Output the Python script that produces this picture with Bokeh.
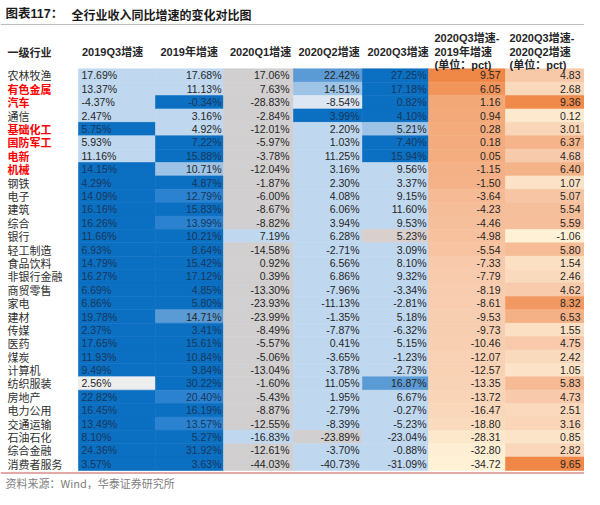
import numpy as np
from bokeh.plotting import figure
from bokeh.models import ColumnDataSource, LinearColorMapper, Range1d
from bokeh.transform import transform
from bokeh.core.properties import value
from bokeh.embed import file_html
from bokeh.resources import INLINE

# ---------------- data ----------------
industries = ["农林牧渔", "有色金属", "汽车", "通信", "基础化工", "国防军工", "电新", "机械",
              "钢铁", "电子", "建筑", "综合", "银行", "轻工制造", "食品饮料", "非银行金融",
              "商贸零售", "家电", "建材", "传媒", "医药", "煤炭", "计算机", "纺织服装",
              "房地产", "电力公用", "交通运输", "石油石化", "综合金融", "消费者服务"]
red_industries = ["有色金属", "汽车", "基础化工", "国防军工", "电新", "机械"]

g_2019q3 = [17.69, 13.37, -4.37, 2.47, 5.75, 5.93, 11.16, 14.15, 4.29, 14.09, 16.16, 16.26,
            11.66, 6.93, 14.79, 16.27, 6.69, 6.86, 19.78, 2.37, 17.65, 11.93, 9.49, 2.56,
            22.82, 16.45, 13.49, 8.10, 24.36, 3.57]
g_2019 = [17.68, 11.13, -0.34, 3.16, 4.92, 7.22, 15.88, 10.71, 4.87, 12.79, 15.83, 13.99,
          10.21, 8.64, 15.42, 17.12, 4.85, 5.80, 14.71, 3.41, 15.61, 10.84, 9.84, 30.22,
          20.40, 16.19, 13.57, 5.27, 31.92, 3.63]
g_2020q1 = [17.06, 7.63, -28.83, -2.84, -12.01, -5.97, -3.78, -12.04, -1.87, -6.00, -8.67, -8.82,
            7.19, -14.58, 0.92, 0.39, -13.30, -23.93, -23.99, -8.49, -5.57, -5.06, -13.04, -1.60,
            -5.43, -8.87, -12.55, -16.83, -12.61, -44.03]
g_2020q2 = [22.42, 14.51, -8.54, 3.99, 2.20, 1.03, 11.25, 3.16, 2.30, 4.08, 6.06, 3.94,
            6.28, -2.71, 6.56, 6.86, -7.96, -11.13, -1.35, -7.87, 0.41, -3.65, -3.78, 11.05,
            1.95, -2.79, -8.39, -23.89, -3.70, -40.73]
g_2020q3 = [27.25, 17.18, 0.82, 4.10, 5.21, 7.40, 15.94, 9.56, 3.37, 9.15, 11.60, 9.53,
            5.23, 3.09, 8.10, 9.32, -3.34, -2.81, 5.18, -6.32, 5.15, -1.23, -2.73, 16.87,
            6.67, -0.27, -5.23, -23.04, -0.88, -31.09]
d_vs_2019 = [9.57, 6.05, 1.16, 0.94, 0.28, 0.18, 0.05, -1.15, -1.50, -3.64, -4.23, -4.46,
             -4.98, -5.54, -7.33, -7.79, -8.19, -8.61, -9.53, -9.73, -10.46, -12.07, -12.57, -13.35,
             -13.72, -16.47, -18.80, -28.31, -32.80, -34.72]
d_vs_q2 = [4.83, 2.68, 9.36, 0.12, 3.01, 6.37, 4.68, 6.40, 1.07, 5.07, 5.54, 5.59,
           -1.06, 5.80, 1.54, 2.46, 4.62, 8.32, 6.53, 1.55, 4.75, 2.42, 1.05, 5.83,
           4.73, 2.51, 3.16, 0.85, 2.82, 9.65]

# cell highlight codes (one letter per row)
shade_2019q3 = "lllldll" + "dddddddddddddddd" + "w" + "dddddd"
shade_2019 = "lldlldd" + "p" + "dmdm" + "dddddd" + "b" + "ddddd" + "mdm" + "ddd"
shade_2020q1 = "gggggggggggg" + "l" + "gggggggggggggg" + "l" + "gg"
shade_2020q2 = "bpxd" + "lllllllllllllllllllllll" + "g" + "ll"
shade_2020q3 = "ddddpdd" + "lllll" + "r" + "llllllllll" + "b" + "llllll"

title_a = "图表117："
title_b = "全行业收入同比增速的变化对比图"
source_note = "资料来源：Wind，华泰证券研究所"
header_single = ["2019Q3增速", "2019年增速", "2020Q1增速", "2020Q2增速", "2020Q3增速"]
header_multi = [["2020Q3增速-", "2019年增速", "(单位：pct)"],
                ["2020Q3增速-", "2020Q2增速", "(单位：pct)"]]
first_header = "一级行业"

# ---------------- style ----------------
SHADE = {"d": "#0B6FC2", "m": "#2A82D0", "b": "#5B9BD5", "p": "#9DC3E6",
         "l": "#BFD8EF", "x": "#DCE7F3", "g": "#D1CFCF", "w": "#EEEEEE", "r": "#D9CFCC"}
DARK_TXT = "#17375C"
TXT = "#262626"
NUM_FONT = value("Liberation Sans, Noto Sans CJK SC")
CJK_FONT = value("Noto Sans CJK SC")

W, H = 584, 489
TOP = 68.3
RH = 13.39
EDGES = [78, 155, 223, 293, 362, 428, 505, 584]
TEXT_X = [81, 221, 289, 359, 426, 500, 580]
ALIGN = ["left", "right", "right", "right", "right", "right", "right"]
HEAD_X = [81.5, 160, 229.5, 298, 367, 434, 509]

n = len(industries)
rows_top = [TOP + i * RH for i in range(n)]
rows_bot = [TOP + (i + 1) * RH for i in range(n)]
rows_mid = [TOP + (i + 0.5) * RH for i in range(n)]

p = figure(width=W, height=H, x_range=Range1d(0, W), y_range=Range1d(H, 0),
           output_backend="svg", toolbar_location=None, x_axis_type=None, y_axis_type=None,
           min_border=0, outline_line_color=None, background_fill_color="white",
           border_fill_color="white")

# blue/gray columns
blue_cols = [(g_2019q3, shade_2019q3), (g_2019, shade_2019), (g_2020q1, shade_2020q1),
             (g_2020q2, shade_2020q2), (g_2020q3, shade_2020q3)]
for j, (vals, shades) in enumerate(blue_cols):
    src = ColumnDataSource(dict(
        left=[EDGES[j]] * n, right=[EDGES[j + 1]] * n, top=rows_top, bottom=rows_bot,
        color=[SHADE[s] for s in shades], y=rows_mid, x=[TEXT_X[j]] * n,
        label=["%.2f%%" % v for v in vals],
        tcolor=[DARK_TXT if s in "dm" else TXT for s in shades]))
    p.quad(left="left", right="right", top="top", bottom="bottom", fill_color="color",
           line_color="color", line_width=0.6, source=src)
    p.text(x="x", y="y", text="label", text_align=ALIGN[j], text_baseline="middle",
           text_font=NUM_FONT, text_font_size="10.5px", text_color="tcolor", source=src)


def three_color_palette(lo, mid, hi, c_lo, c_mid, c_hi, k=256):
    out = []
    for t in np.linspace(0, 1, k):
        v = lo + t * (hi - lo)
        if v <= mid:
            f = (v - lo) / (mid - lo)
            a, b = c_lo, c_mid
        else:
            f = (v - mid) / (hi - mid)
            a, b = c_mid, c_hi
        c = [int(round(a[i] + f * (b[i] - a[i]))) for i in range(3)]
        out.append("#%02x%02x%02x" % tuple(c))
    return out


C_LO, C_MID, C_HI = (254, 241, 214), (248, 203, 173), (239, 135, 70)
for j, vals in [(5, d_vs_2019), (6, d_vs_q2)]:
    lo, hi, med = min(vals), max(vals), float(np.median(vals))
    mapper = LinearColorMapper(palette=three_color_palette(lo, med, hi, C_LO, C_MID, C_HI),
                               low=lo, high=hi)
    src = ColumnDataSource(dict(
        left=[EDGES[j]] * n, right=[EDGES[j + 1]] * n, top=rows_top, bottom=rows_bot,
        v=vals, y=rows_mid, x=[TEXT_X[j]] * n, label=["%.2f" % v for v in vals]))
    p.quad(left="left", right="right", top="top", bottom="bottom",
           fill_color=transform("v", mapper), line_color=transform("v", mapper),
           line_width=0.6, source=src)
    p.text(x="x", y="y", text="label", text_align="right", text_baseline="middle",
           text_font=NUM_FONT, text_font_size="10.5px", text_color=TXT, source=src)

# industry names
black_idx = [i for i, s in enumerate(industries) if s not in red_industries]
red_idx = [i for i, s in enumerate(industries) if s in red_industries]
p.text(x=[7] * len(black_idx), y=[rows_mid[i] for i in black_idx],
       text=[industries[i] for i in black_idx], text_align="left", text_baseline="middle",
       text_font=CJK_FONT, text_font_size="11px", text_color="#303030")
p.text(x=[7] * len(red_idx), y=[rows_mid[i] for i in red_idx],
       text=[industries[i] for i in red_idx], text_align="left", text_baseline="middle",
       text_font=CJK_FONT, text_font_size="11px", text_color="#FF0000",
       text_font_style="bold")

# header
HEAD_Y = [37.5, 51, 64.5]
p.text(x=[7], y=[HEAD_Y[1]], text=[first_header], text_align="left", text_baseline="middle",
       text_font=CJK_FONT, text_font_size="11px", text_color=TXT, text_font_style="bold")
p.text(x=HEAD_X[:5], y=[HEAD_Y[1]] * 5, text=header_single, text_align="left",
       text_baseline="middle", text_font=NUM_FONT, text_font_size="11px",
       text_color=TXT, text_font_style="bold")
for k, lines in enumerate(header_multi):
    p.text(x=[HEAD_X[5 + k]] * 3, y=HEAD_Y, text=lines, text_align="left",
           text_baseline="middle", text_font=NUM_FONT, text_font_size="11px",
           text_color=TXT, text_font_style="bold")

# title, rules and source
p.text(x=[5], y=[13.5], text=[title_a], text_align="left", text_baseline="middle",
       text_font=NUM_FONT, text_font_size="12.5px", text_color="#1a1a1a",
       text_font_style="bold")
p.text(x=[71], y=[13.5], text=[title_b], text_align="left", text_baseline="middle",
       text_font=CJK_FONT, text_font_size="12px", text_color="#1a1a1a",
       text_font_style="bold")
p.segment(x0=[0], y0=[24], x1=[W], y1=[24], line_color="#BDBDBD", line_width=1)
p.segment(x0=[0], y0=[472.5], x1=[W], y1=[472.5], line_color="#E3A9A9", line_width=2)
p.text(x=[5], y=[482], text=[source_note], text_align="left", text_baseline="middle",
       text_font=CJK_FONT, text_font_size="11px", text_color="#808080")

open("out.html", "w").write(file_html(p, INLINE))
